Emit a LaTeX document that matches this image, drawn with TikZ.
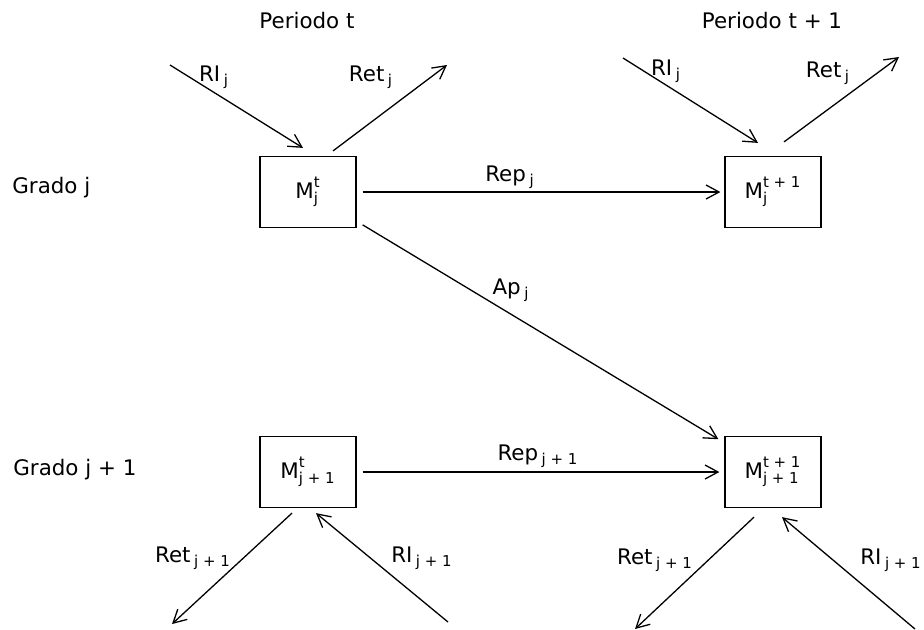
\documentclass[tikz,border=0pt]{standalone}
\usepackage{amsmath}
\usepackage{fontspec}
\setmainfont{DejaVu Sans}
\usetikzlibrary{arrows.meta}
\tikzset{>={Straight Barb[length=6.5pt,width=7pt]}}
\tikzset{
  stock/.style = {draw,line width=0.6pt,minimum width=48pt,minimum height=35.5pt,inner sep=0pt},
  flow/.style = {->,line width=0.65pt},
  lbl/.style = {inner sep=0pt}
}
\newcommand{\idx}[1]{\,$_{\text{#1}}$}
\newcommand{\Mst}[2]{$\text{M}^{\text{#1}}_{\text{#2}}$}

\begin{document}
\begin{tikzpicture}[x=0.5pt,y=-0.5pt,font=\fontsize{10.7}{13}\selectfont]
  \useasboundingbox (0,0) rectangle (924,629);
  % headings
  \node[lbl] (pt) at (307,21) {Periodo t};
  \node[lbl] (pt1) at (772,21) {Periodo t + 1};
  \node[lbl,anchor=west] (gj) at (12,188) {Grado j};
  \node[lbl,anchor=west] (gj1) at (13,470) {Grado j + 1};
  % stocks
  \node[stock] (Mjt) at (308,192) {\Mst{t}{j}};
  \node[stock] (Mjt1) at (773,192) {\Mst{t + 1}{j}};
  \node[stock] (Mj1t) at (308,472) {\Mst{t}{j + 1}};
  \node[stock] (Mj1t1) at (773,472) {\Mst{t + 1}{j + 1}};
  % free ends
  \coordinate (riA) at (170,65);
  \coordinate (riAe) at ([shift={(-5,-8)}]Mjt.north);
  \coordinate (retAs) at ([shift={(25,-5)}]Mjt.north);
  \coordinate (retA) at (447,65);
  \coordinate (riB) at (623,58);
  \coordinate (riBe) at ([shift={(-15,-13)}]Mjt1.north);
  \coordinate (retBs) at ([shift={(11,-14)}]Mjt1.north);
  \coordinate (retB) at (899,57);
  \coordinate (retCs) at ([shift={(-16,5)}]Mj1t.south);
  \coordinate (retC) at (172,624);
  \coordinate (riC) at (448,622);
  \coordinate (riCe) at ([shift={(8,5)}]Mj1t.south);
  \coordinate (retDs) at ([shift={(-19,9)}]Mj1t1.south);
  \coordinate (retD) at (635,629);
  \coordinate (riD) at (915,629);
  \coordinate (riDe) at ([shift={(9,9)}]Mj1t1.south);
  % flows
  \draw[flow] (riA) -- (riAe);
  \draw[flow] (retAs) -- (retA);
  \draw[flow] (riB) -- (riBe);
  \draw[flow] (retBs) -- (retB);
  \draw[flow,shorten <=3pt,shorten >=2pt] (Mjt) -- (Mjt1);
  \draw[flow,shorten <=3.5pt,shorten >=3.5pt] (Mjt) -- (Mj1t1);
  \draw[flow,shorten <=3pt,shorten >=2.5pt] (Mj1t) -- (Mj1t1);
  \draw[flow] (retCs) -- (retC);
  \draw[flow] (riC) -- (riCe);
  \draw[flow] (retDs) -- (retD);
  \draw[flow] (riD) -- (riDe);
  % labels
  \node[lbl] (lriA) at (214,77) {RI\idx{j}};
  \node[lbl] (lretA) at (371,77) {Ret\idx{j}};
  \node[lbl] (lriB) at (666,71) {RI\idx{j}};
  \node[lbl] (lretB) at (828,73) {Ret\idx{j}};
  \node[lbl] (lrepA) at (510,177) {Rep\idx{j}};
  \node[lbl] (lap) at (511,290) {Ap\idx{j}};
  \node[lbl] (lrepB) at (538,456) {Rep\idx{j + 1}};
  \node[lbl] (lretC) at (193,558) {Ret\idx{j + 1}};
  \node[lbl] (lriC) at (422,558) {RI\idx{j + 1}};
  \node[lbl] (lretD) at (655,560) {Ret\idx{j + 1}};
  \node[lbl] (lriD) at (891,560) {RI\idx{j + 1}};
\end{tikzpicture}
\end{document}
